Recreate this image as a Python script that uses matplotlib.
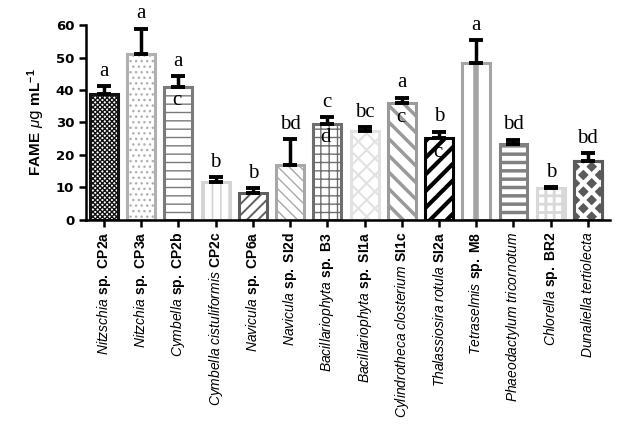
import numpy as np
import matplotlib
matplotlib.use("Agg")
import matplotlib.pyplot as plt

plt.rcParams['mathtext.fontset'] = 'custom'
plt.rcParams['mathtext.it'] = 'Liberation Sans:italic'
plt.rcParams['mathtext.rm'] = 'Liberation Sans'
plt.rcParams['mathtext.bf'] = 'Liberation Sans:bold'

# genus (italic) and strain part of each label
genus = ["Nitzschia", "Nitzchia", "Cymbella", "Cymbella cistuliformis", "Navicula",
         "Navicula", "Bacillariophyta", "Bacillariophyta", "Cylindrotheca closterium",
         "Thalassiosira rotula", "Tetraselmis", "Phaeodactylum  tricornotum",
         "Chlorella", "Dunaliella tertiolecta"]
strain = ["sp. CP2a", "sp. CP3a", "sp. CP2b", "CP2c", "sp. CP6a", "sp. SI2d", "sp. B3",
          "sp. SI1a", "SI1c", "SI2a", "sp. M8", "", "sp. BR2", ""]

fame = [38.7, 51.1, 41.0, 11.6, 8.2, 16.9, 29.5, 27.5, 35.9, 25.1, 48.2, 23.4, 9.7, 18.2]
err = [2.5, 7.7, 3.3, 1.5, 1.5, 7.9, 2.1, 1.0, 1.7, 2.0, 7.2, 1.2, 0.3, 2.3]
letters = ["a", "a", "a", "b", "b", "bd", "c", "bc", "a", "b", "a", "bd", "b", "bd"]
# letters printed over the top of some bars
inner = {2: "c", 6: "d", 8: "c", 9: "c"}

# bar styles: edge colour, hatch, hatch line width
edges = ["#111111", "#b0b0b0", "#7a7a7a", "#d4d4d4", "#5e5e5e", "#a8a8a8", "#6e6e6e",
         "#e2e2e2", "#9a9a9a", "#000000", "#a4a4a4", "#808080", "#d8d8d8", "#5a5a5a"]
hatches = ["xxxxxxx", "...", "--", "||", "///", "\\\\\\", "++", "xx", "\\\\",
           "//", "", "--", "++", "xx"]
hatch_lw = [1.0, 1.0, 1.0, 1.2, 1.4, 1.0, 1.0, 1.5, 2.5, 3.0, 1.0, 2.5, 2.0, 3.0]

fig = plt.figure(figsize=(6.24, 4.26), dpi=100)
ax = fig.add_axes([0.138, 0.484, 0.840, 0.457])

x = np.arange(len(fame))


def set_hlw(bars, lw):
    for p in bars.patches:
        if hasattr(p, 'set_hatch_linewidth'):
            p.set_hatch_linewidth(lw)


for i in range(len(fame)):
    if i == 13:
        # dark bar with white diamonds
        ax.bar(x[i], fame[i], width=0.75, color=edges[i], edgecolor=edges[i], linewidth=2.2)
        with plt.rc_context({'hatch.linewidth': hatch_lw[i]}):
            b = ax.bar(x[i], fame[i], width=0.75, color='none', edgecolor='white',
                       hatch=hatches[i], linewidth=0)
        set_hlw(b, hatch_lw[i])
        ax.bar(x[i], fame[i], width=0.75, color='none', edgecolor=edges[i], linewidth=2.2)
    else:
        with plt.rc_context({'hatch.linewidth': hatch_lw[i]}):
            b = ax.bar(x[i], fame[i], width=0.75, color='white', edgecolor=edges[i],
                       hatch=hatches[i], linewidth=2.2)
        set_hlw(b, hatch_lw[i])
        if i == 10:
            # thick centre stripe of the Tetraselmis bar
            ax.vlines(x[i], 0, fame[i], color=edges[i], linewidth=4)

ax.errorbar(x, fame, yerr=[np.zeros(len(err)), err], fmt='none', ecolor='black',
            elinewidth=2.5, capsize=4.8, capthick=2.8)

for i in range(len(fame)):
    ax.annotate(letters[i], (x[i], fame[i] + err[i]), xytext=(0, 4), textcoords='offset points',
                ha='center', va='bottom', fontsize=15, family='Liberation Serif')
for i, t in inner.items():
    ax.annotate(t, (x[i], fame[i]), xytext=(-1, -10), textcoords='offset points',
                ha='center', va='center', fontsize=15, family='Liberation Serif')

ax.set_xlim(-0.48, 13.6)
ax.set_ylim(0, 60)
ax.set_yticks(range(0, 61, 10))
ax.set_yticklabels([str(v) for v in range(0, 61, 10)], fontsize=9.5, fontweight='bold')

labels = []
for g, s in zip(genus, strain):
    gi = r'\ '.join(g.split())
    lab = r'$\mathit{' + gi + '}$'
    if s:
        lab += r' $\mathbf{' + s.replace(' ', r'\ ') + '}$'
    labels.append(lab)
ax.set_xticks(x)
ax.set_xticklabels(labels, rotation=90, fontsize=10)

ax.set_ylabel(r'$\mathbf{FAME}$ $\mu$g $\mathbf{mL^{-1}}$', fontsize=11, labelpad=6)

for s in ['top', 'right']:
    ax.spines[s].set_visible(False)
for s in ['left', 'bottom']:
    ax.spines[s].set_linewidth(1.8)
ax.tick_params(axis='both', width=1.8, length=5, color='black')

fig.savefig("out.png", dpi=100)
